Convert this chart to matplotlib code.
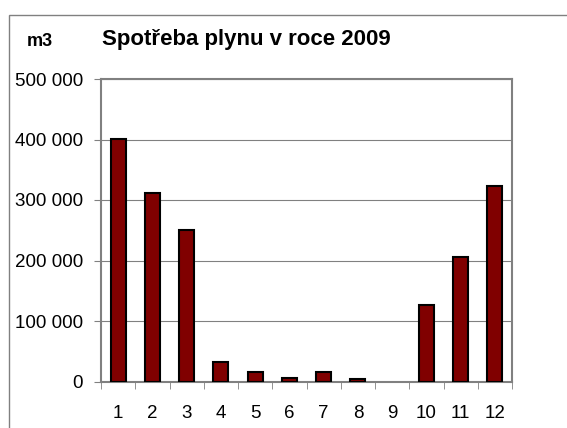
import matplotlib
matplotlib.use("Agg")
import matplotlib.pyplot as plt
from matplotlib.patches import Rectangle
from matplotlib.ticker import FixedLocator, NullFormatter

months = ["1", "2", "3", "4", "5", "6", "7", "8", "9", "10", "11", "12"]
values = [401000, 312000, 251000, 32000, 16000, 5500, 15000, 4000, 0, 127000, 205000, 323000]
yticks = [0, 100000, 200000, 300000, 400000, 500000]
ytick_labels = ["0", "100 000", "200 000", "300 000", "400 000", "500 000"]

plt.rcParams['font.family'] = ['Liberation Sans', 'DejaVu Sans']

W, H = 567, 428
fig = plt.figure(figsize=(W / 100, H / 100), dpi=100)

# outer chart frame
fig.patches.append(Rectangle((9 / W, -0.1), 1.2, 1 - 15 / H + 0.1, transform=fig.transFigure,
                             fill=False, edgecolor="#808080", linewidth=1.0))

left, right, top, bottom = 101, 512, 79, 381.5
ax = fig.add_axes([left / W, 1 - bottom / H, (right - left) / W, (bottom - top) / H])

x = list(range(len(months)))
bars = ax.bar(x, values, width=0.44, color="#800000", edgecolor="black", linewidth=1.5, zorder=3)
for b, v in zip(bars, values):
    if v == 0:
        b.set_visible(False)

ax.set_xlim(-0.5, len(months) - 0.5)
ax.set_ylim(0, 500000)
ax.set_yticks(yticks)
ax.set_yticklabels(ytick_labels, fontsize=13.5)
ax.yaxis.grid(True, color="#808080", linewidth=0.8, zorder=0)

ax.set_xticks(x)
ax.set_xticklabels(months, fontsize=13.5)
ax.xaxis.set_minor_locator(FixedLocator([i - 0.5 for i in range(len(months) + 1)]))
ax.xaxis.set_minor_formatter(NullFormatter())
ax.tick_params(axis="x", which="major", length=0, pad=17)
ax.tick_params(axis="x", which="minor", length=5, color="#808080", direction="out")
ax.tick_params(axis="y", length=5, color="#808080", direction="out", pad=8)

for s in ax.spines.values():
    s.set_color("#808080")
    s.set_linewidth(1.5)

fig.text(102 / W, 1 - 40 / H, "Spotřeba plynu v roce 2009", fontsize=16, fontweight="bold",
         ha="left", va="center")
fig.text(27 / W, 1 - 42 / H, "m3", fontsize=13, fontweight="bold", ha="left", va="center")

fig.savefig("out.png", dpi=100)
